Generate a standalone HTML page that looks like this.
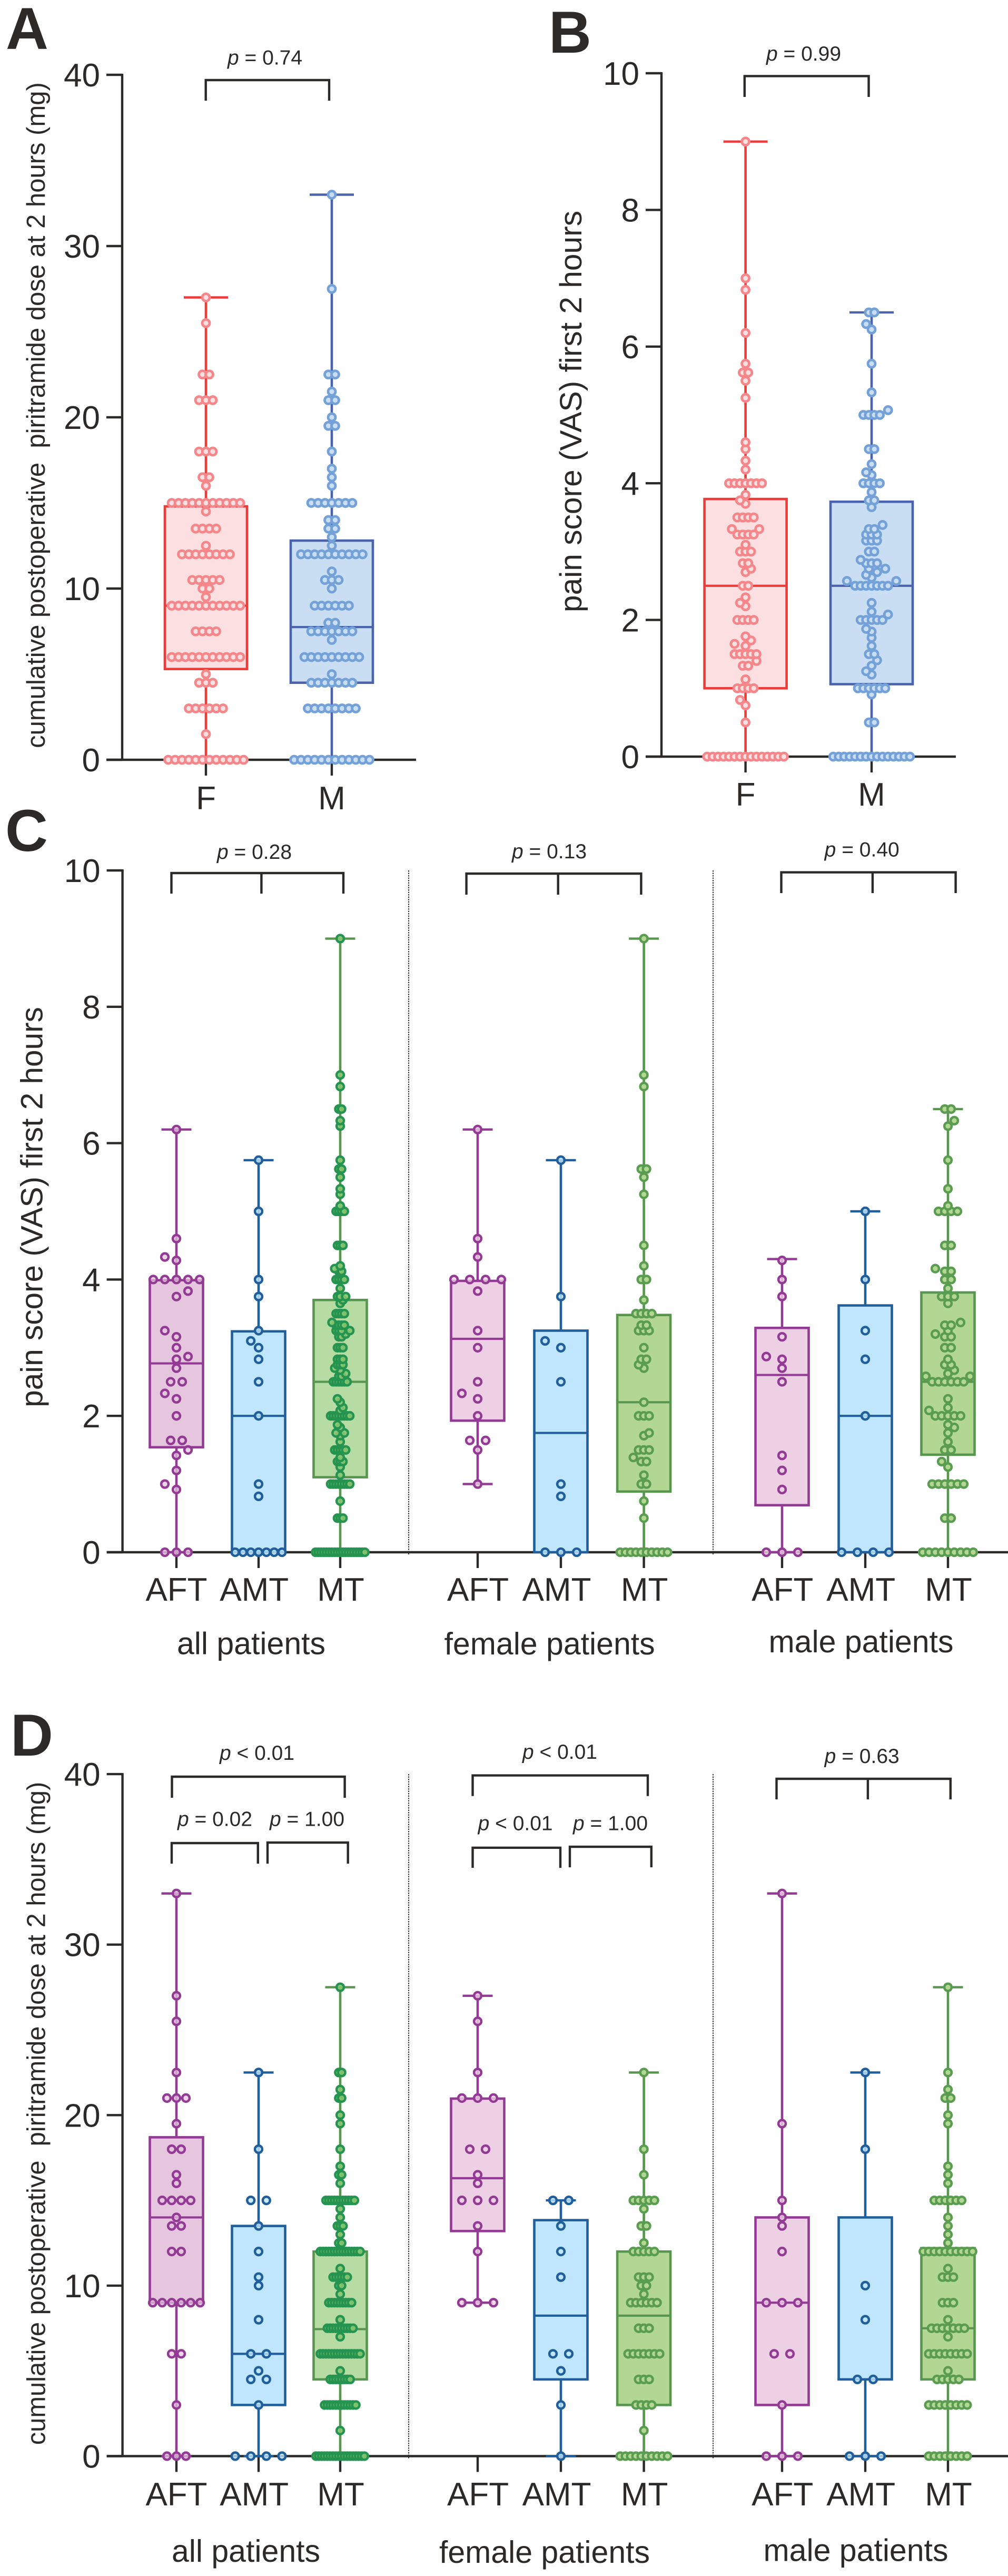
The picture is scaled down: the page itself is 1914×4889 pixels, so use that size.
<!DOCTYPE html>
<html lang="en">
<head>
<meta charset="utf-8">
<title>Piritramide dose and pain score box plots</title>
<style>
html,body{margin:0;padding:0;background:#fff;}
svg{display:block;}
text{font-family:"Liberation Sans",Arial,sans-serif;fill:#2b2a29;white-space:pre;}
.letter{font-size:112px;font-weight:bold;}
.ptext{font-size:39px;text-anchor:middle;}
.group{font-size:59px;text-anchor:middle;}
.ytitle{text-anchor:middle;}
.bracket{fill:none;stroke:#2b2a29;stroke-width:4.4;}
.sep{stroke:#333;stroke-width:2;stroke-dasharray:2.5 2;}
</style>
</head>
<body>
<svg id="figure" xmlns="http://www.w3.org/2000/svg" width="1914" height="4889" viewBox="0 0 1914 4889">
  <rect width="1914" height="4889" fill="#ffffff"/>

  <text class="letter" x="11" y="93">A</text>
  <text class="letter" x="1042" y="100">B</text>
  <text class="letter" x="10" y="1615">C</text>
  <text class="letter" x="20" y="3332">D</text>

  <text class="ytitle" font-size="49" transform="translate(85,788) rotate(-90)">cumulative postoperative  piritramide dose at 2 hours (mg)</text>
  <text class="ytitle" font-size="58.7" transform="translate(1104,781) rotate(-90)">pain score (VAS) first 2 hours</text>
  <text class="ytitle" font-size="58.5" transform="translate(80.5,2291) rotate(-90)">pain score (VAS) first 2 hours</text>
  <text class="ytitle" font-size="48.8" transform="translate(85.5,4011) rotate(-90)">cumulative postoperative  piritramide dose at 2 hours (mg)</text>

  <line class="sep" x1="776" y1="1652" x2="776" y2="2950"/>
  <line class="sep" x1="1354" y1="1652" x2="1354" y2="2950"/>
  <line class="sep" x1="776" y1="3367" x2="776" y2="4667"/>
  <line class="sep" x1="1354" y1="3367" x2="1354" y2="4667"/>

  <text class="ptext" x="503" y="122.5"><tspan font-style="italic">p</tspan> = 0.74</text>
  <path class="bracket" d="M390.7 191V152H625V191"/>
  <text class="ptext" x="1526" y="115"><tspan font-style="italic">p</tspan> = 0.99</text>
  <path class="bracket" d="M1413.8 184V144.4H1649.5V184"/>

  <text class="ptext" x="483" y="1630"><tspan font-style="italic">p</tspan> = 0.28</text>
  <path class="bracket" d="M325.5 1696V1657H652V1696M496.4 1657V1696"/>
  <text class="ptext" x="1043" y="1629"><tspan font-style="italic">p</tspan> = 0.13</text>
  <path class="bracket" d="M885.6 1698V1658H1217.4V1698M1059.7 1658V1698"/>
  <text class="ptext" x="1636.7" y="1625.5"><tspan font-style="italic">p</tspan> = 0.40</text>
  <path class="bracket" d="M1483.5 1695V1655.6H1814.6V1695M1656.9 1655.6V1695"/>

  <text class="ptext" x="488" y="3340"><tspan font-style="italic">p</tspan> &lt; 0.01</text>
  <path class="bracket" d="M326.5 3412V3372H654.6V3412"/>
  <text class="ptext" x="408" y="3465.5"><tspan font-style="italic">p</tspan> = 0.02</text>
  <path class="bracket" d="M326 3537V3498H489.8V3537"/>
  <text class="ptext" x="583" y="3465.5"><tspan font-style="italic">p</tspan> = 1.00</text>
  <path class="bracket" d="M508 3537V3497H660.7V3537"/>

  <text class="ptext" x="1063" y="3338"><tspan font-style="italic">p</tspan> &lt; 0.01</text>
  <path class="bracket" d="M897.5 3408.7V3369.6H1230V3408.7"/>
  <text class="ptext" x="978.6" y="3473.5"><tspan font-style="italic">p</tspan> &lt; 0.01</text>
  <path class="bracket" d="M897.5 3545V3506.8H1064V3545"/>
  <text class="ptext" x="1159" y="3473.5"><tspan font-style="italic">p</tspan> = 1.00</text>
  <path class="bracket" d="M1082 3544V3505H1236.8V3544"/>

  <text class="ptext" x="1636.7" y="3346"><tspan font-style="italic">p</tspan> = 0.63</text>
  <path class="bracket" d="M1474.5 3415V3376H1804.8V3415M1647.9 3376V3415"/>

  <text class="group" x="477" y="3139.5">all patients</text>
  <text class="group" x="1043.6" y="3140">female patients</text>
  <text class="group" x="1635" y="3136">male patients</text>
  <text class="group" x="467" y="4862">all patients</text>
  <text class="group" x="1034" y="4864">female patients</text>
  <text class="group" x="1625" y="4860.5">male patients</text>
</svg>

<script>
/* ---------- axis ticks and categories ---------- */
const doseTicks = [0, 10, 20, 30, 40];
const painTicks = [0, 2, 4, 6, 8, 10];
const sexCategories = ['F', 'M'];
const treatmentCategories = ['AFT', 'AMT', 'MT'];

/* ---------- box statistics: min, q1, median, q3, max ---------- */
const A_F_box = [0, 5.3, 9, 14.8, 27];
const A_M_box = [0, 4.5, 7.75, 12.8, 33];
const B_F_box = [0, 1, 2.5, 3.77, 9];
const B_M_box = [0, 1.06, 2.5, 3.73, 6.5];

const C_all_AFT_box = [0, 1.54, 2.77, 3.99, 6.2];
const C_all_AMT_box = [0, 0, 2, 3.24, 5.75];
const C_all_MT_box = [0, 1.1, 2.5, 3.7, 9];
const C_fem_AFT_box = [1, 1.93, 3.13, 3.98, 6.2];
const C_fem_AMT_box = [0, 0, 1.75, 3.25, 5.75];
const C_fem_MT_box = [0, 0.89, 2.2, 3.48, 9];
const C_male_AFT_box = [0, 0.69, 2.6, 3.29, 4.3];
const C_male_AMT_box = [0, 0, 2, 3.62, 5];
const C_male_MT_box = [0, 1.43, 2.5, 3.81, 6.5];

const D_all_AFT_box = [0, 9, 14, 18.7, 33];
const D_all_AMT_box = [0, 3, 6, 13.5, 22.5];
const D_all_MT_box = [0, 4.5, 7.45, 12, 27.5];
const D_fem_AFT_box = [9, 13.2, 16.3, 20.97, 27];
const D_fem_AMT_box = [0, 4.5, 8.24, 13.84, 15];
const D_fem_MT_box = [0, 3, 8.24, 12, 22.5];
const D_male_AFT_box = [0, 3, 9, 14, 33];
const D_male_AMT_box = [0, 4.5, 4.5, 14, 22.5];
const D_male_MT_box = [0, 4.5, 7.5, 12.2, 27.5];

/* ---------- individual observations: [value, how many patients] ---------- */
const A_F_rows = [[0,12],[1.5,1],[3,6],[4.5,3],[5,1],[6,11],[7.5,4],[9,11],[9.5,1],[10,2],[10.5,5],[12,8],[12.5,1],[13.5,4],[14.5,1],[15,11],[16,1],[16.5,2],[18,3],[21,3],[22.5,2],[25.5,1],[27,1]];
const A_M_rows = [[0,12],[3,8],[4.5,7],[5,1],[6,9],[7,1],[7.5,7],[8,2],[9,6],[10,1],[10.5,3],[11,1],[12,10],[12.5,1],[13,1],[13.5,2],[14,2],[15,7],[16,1],[16.5,1],[17,1],[18,1],[19.5,2],[20,1],[21,2],[21.5,1],[22.5,2],[27.5,1],[33,1]];
const B_F_rows = [[0,15],[0.5,1],[0.75,1],[0.83,1],[1,4],[1.13,1],[1.33,2],[1.4,1],[1.5,5],[1.62,1],[1.65,1],[1.7,1],[1.76,1],[2,4],[2.2,1],[2.25,1],[2.33,1],[2.5,2],[2.7,1],[2.75,1],[2.83,2],[3,3],[3.1,1],[3.25,4],[3.33,2],[3.5,4],[3.7,1],[3.75,1],[3.83,1],[4,7],[4.2,1],[4.33,1],[4.5,1],[4.6,1],[5.25,1],[5.5,1],[5.62,2],[5.75,1],[6.2,1],[6.83,1],[7,1],[9,1]];
const B_M_rows = [[0,15],[0.5,2],[0.91,1],[1,6],[1.2,1],[1.25,1],[1.33,1],[1.41,1],[1.5,2],[1.62,1],[1.74,1],[1.83,1],[1.87,1],[2,5],[2.08,1],[2.12,1],[2.25,1],[2.5,7],[2.57,2],[2.62,1],[2.66,1],[2.7,1],[2.75,2],[2.83,3],[2.88,1],[3,2],[3.16,3],[3.25,3],[3.33,2],[3.39,1],[3.65,1],[3.75,2],[3.87,1],[4,4],[4.12,1],[4.16,1],[4.28,1],[4.5,2],[5,4],[5.07,1],[5.33,1],[5.75,1],[6.25,1],[6.33,1],[6.5,2]];

const C_fem_AFT_rows = [[1,1],[1.5,1],[1.64,2],[2,1],[2.25,1],[2.33,1],[2.5,1],[3,1],[3.25,1],[3.83,1],[4,4],[4.33,1],[4.6,1],[6.2,1]];
const C_male_AFT_rows = [[0,3],[0.92,1],[1.2,1],[1.42,1],[2.5,1],[2.7,1],[2.83,1],[2.87,1],[3.16,1],[3.75,1],[4,1],[4.28,1]];
const C_fem_AMT_rows = [[0,3],[0.82,1],[1,1],[2.5,1],[3,1],[3.1,1],[3.75,1],[5.75,1]];
const C_male_AMT_rows = [[0,4],[2,1],[2.83,1],[3.25,1],[4,1],[5,1]];
const C_fem_MT_rows = [[0,10],[0.5,1],[0.75,1],[1,2],[1.13,1],[1.33,2],[1.39,1],[1.5,3],[1.71,1],[1.75,1],[2,3],[2.2,1],[2.7,1],[2.75,1],[2.83,2],[3,1],[3.25,3],[3.33,2],[3.5,4],[3.7,1],[4,2],[4.2,1],[4.5,1],[5.25,1],[5.5,1],[5.62,2],[6.83,1],[7,1],[9,1]];
const C_male_MT_rows = [[0,9],[0.5,2],[1,6],[1.25,1],[1.33,1],[1.5,2],[1.62,1],[1.75,1],[1.83,1],[1.87,1],[2,5],[2.08,1],[2.12,1],[2.25,1],[2.5,6],[2.58,2],[2.62,1],[2.67,1],[2.75,2],[2.83,1],[3,2],[3.16,2],[3.2,1],[3.25,1],[3.33,2],[3.37,1],[3.65,1],[3.75,3],[3.87,1],[4,2],[4.12,2],[4.16,1],[4.5,2],[5,4],[5.08,1],[5.33,1],[5.75,1],[6.25,1],[6.33,1],[6.5,2]];
const C_all_AFT_rows = mergeRows(C_fem_AFT_rows, C_male_AFT_rows);
const C_all_AMT_rows = mergeRows(C_fem_AMT_rows, C_male_AMT_rows);
const C_all_MT_rows = mergeRows(C_fem_MT_rows, C_male_MT_rows);

const D_fem_AFT_rows = [[9,3],[12,1],[13.5,1],[15,3],[16,1],[16.5,1],[18,2],[21,3],[22.5,1],[25.5,1],[27,1]];
const D_male_AFT_rows = [[0,3],[3,1],[6,2],[9,3],[12,1],[13.5,1],[14,1],[15,1],[19.5,1],[33,1]];
const D_fem_AMT_rows = [[0,1],[3,1],[5,1],[6,2],[10.5,1],[12,1],[13.5,1],[15,2]];
const D_male_AMT_rows = [[0,3],[4.5,2],[8,1],[10,1],[18,1],[22.5,1]];
const D_fem_MT_rows = [[0,10],[1.5,1],[3,4],[4.5,3],[6,7],[7.5,3],[9,6],[9.5,1],[10,2],[10.5,3],[12,5],[12.5,1],[13.5,2],[14.5,1],[15,5],[16.5,1],[18,1],[22.5,1]];
const D_male_MT_rows = [[0,8],[3,8],[4.5,5],[5,1],[6,8],[7,1],[7.5,7],[8,1],[9,3],[10.5,3],[11,1],[12,10],[12.5,1],[13,1],[13.5,1],[14,1],[15,6],[16,1],[16.5,1],[17,1],[19.5,1],[20,1],[21,2],[21.5,1],[22.5,1],[27.5,1]];
const D_all_AFT_rows = mergeRows(D_fem_AFT_rows, D_male_AFT_rows);
const D_all_AMT_rows = mergeRows(D_fem_AMT_rows, D_male_AMT_rows);
const D_all_MT_rows = mergeRows(D_fem_MT_rows, D_male_MT_rows);

function mergeRows(a, b) {
  const m = new Map();
  a.concat(b).forEach(function (r) { m.set(r[0], (m.get(r[0]) || 0) + r[1]); });
  return Array.from(m.entries()).sort(function (p, q) { return p[0] - q[0]; });
}

/* ---------- drawing helpers ---------- */
const NS = 'http://www.w3.org/2000/svg';
const figure = document.getElementById('figure');
const INK = '#2b2a29';

function make(tag, attrs, parent) {
  const n = document.createElementNS(NS, tag);
  Object.keys(attrs).forEach(function (k) { n.setAttribute(k, attrs[k]); });
  parent.appendChild(n);
  return n;
}

function swarm(rows, cx, y, step, minDist) {
  const placed = [];
  let side = -1;
  rows.slice().sort(function (a, b) { return a[0] - b[0]; }).forEach(function (row) {
    const cy = y(row[0]);
    const n = row[1];
    const current = [];
    for (let i = 0; i < n; i++) {
      const base = (i - (n - 1) / 2) * step;
      const dir = base > 0 ? 1 : base < 0 ? -1 : 0;
      const clash = function (off) {
        return placed.some(function (p) {
          const dx = p.x - (cx + off), dy = p.y - cy;
          return dx * dx + dy * dy < minDist * minDist;
        });
      };
      let off = base;
      if (clash(off)) {
        for (let j = 1; j <= 10; j++) {
          if (dir !== 0) {
            off = base + dir * j * step;
            if (!clash(off)) break;
          } else {
            off = side * j * step;
            if (!clash(off)) { side = -side; break; }
            off = -side * j * step;
            if (!clash(off)) { break; }
          }
        }
      }
      current.push({ x: cx + off, y: cy });
    }
    Array.prototype.push.apply(placed, current);
  });
  return placed;
}

function drawAxes(layout, ticks, categories) {
  const g = make('g', {}, figure);
  
  

  const yAxis = make('line', { x1: layout.axisX, x2: layout.axisX, y1: layout.y(ticks[ticks.length - 1]) - 2, y2: layout.y(0), stroke: INK, 'stroke-width': 4.4 }, g);
  
  

  const xAxis = make('line', { x1: layout.axisX - 30, x2: layout.axisEnd, y1: layout.y(0), y2: layout.y(0), stroke: INK, 'stroke-width': 4.6 }, g);
  
  

  ticks.forEach(function (t) {
    const tickLine = make('line', { x1: layout.axisX - 30, x2: layout.axisX, y1: layout.y(t), y2: layout.y(t), stroke: INK, 'stroke-width': 4.4 }, g);
    
    
    const label = make('text', { x: layout.axisX - 42, y: layout.y(t) + 22, 'font-size': 62, 'text-anchor': 'end' }, g);
    label.textContent = String(t);
    
    
  });

  layout.xs.forEach(function (x, i) {
    const tickLine = make('line', { x1: x, x2: x, y1: layout.y(0), y2: layout.y(0) + 30, stroke: INK, 'stroke-width': 4.4 }, g);
    
    
    const label = make('text', { x: layout.labelXs[i], y: layout.y(0) + layout.labelDrop, 'font-size': 62, 'text-anchor': 'middle' }, g);
    label.textContent = categories[i % categories.length];
    
    
  });
}

function drawSeries(name, y, cx, boxStats, rows, look, geo) {
  const min = boxStats[0], q1 = boxStats[1], med = boxStats[2], q3 = boxStats[3], max = boxStats[4];
  const g = make('g', {}, figure);
  
  

  const upper = make('line', { x1: cx, x2: cx, y1: y(max), y2: y(q3), stroke: look.line, 'stroke-width': 4.6 }, g);
  
  

  const lower = make('line', { x1: cx, x2: cx, y1: y(q1), y2: y(min), stroke: look.line, 'stroke-width': 4.6 }, g);
  
  

  const capTop = make('line', { x1: cx - geo.cap / 2, x2: cx + geo.cap / 2, y1: y(max), y2: y(max), stroke: look.line, 'stroke-width': 4.4 }, g);
  
  

  const capBottom = make('line', { x1: cx - geo.cap / 2, x2: cx + geo.cap / 2, y1: y(min), y2: y(min), stroke: look.line, 'stroke-width': 4.4 }, g);
  
  

  const box = make('rect', { x: cx - geo.box / 2, y: y(q3), width: geo.box, height: y(q1) - y(q3), fill: look.fill, stroke: look.line, 'stroke-width': 4.6 }, g);
  
  

  const median = make('line', { x1: cx - geo.box / 2, x2: cx + geo.box / 2, y1: y(med), y2: y(med), stroke: look.line, 'stroke-width': 4.2 }, g);
  
  

  swarm(rows, cx, y, geo.step, geo.minDist).forEach(function (p) {
    const dot = make('circle', { cx: p.x, cy: p.y, r: geo.r, fill: look.dotFill, 'fill-opacity': look.dotOpacity, stroke: look.dotStroke, 'stroke-width': geo.sw }, g);
    
    
  });
}

/* ---------- looks ---------- */
const lookF = { line: '#ee3a39', fill: '#fbdfe1', dotStroke: '#f5878b', dotFill: '#fbdfe1', dotOpacity: 1 };
const lookM = { line: '#4a63ac', fill: '#c9def3', dotStroke: '#74a2d8', dotFill: '#c9def3', dotOpacity: 1 };
const lookAFTall = { line: '#933b94', fill: '#e6c5df', dotStroke: '#933b94', dotFill: '#e6c5df', dotOpacity: 0.72 };
const lookAFTsub = { line: '#933b94', fill: '#eed0e4', dotStroke: '#933b94', dotFill: '#eed0e4', dotOpacity: 0.8 };
const lookAMT = { line: '#205f9c', fill: '#bfe6fc', dotStroke: '#205f9c', dotFill: '#bfe6fc', dotOpacity: 0.8 };
const lookMTall = { line: '#58964f', fill: '#b6dba3', dotStroke: '#249450', dotFill: '#86c46f', dotOpacity: 0.9 };
const lookMTsub = { line: '#58964f', fill: '#b2d793', dotStroke: '#5a9c50', dotFill: '#b2d793', dotOpacity: 1 };

/* ---------- scales ---------- */
function scale(y0, perUnit) { return function (v) { return y0 - v * perUnit; }; }
const yA = scale(1442, 32.5);
const yB = scale(1436, 129.7);
const yC = scale(2946, 129.4);
const yD = scale(4661.5, 32.36);

const twoGeo = { box: 156, cap: 84, step: 13, minDist: 12, r: 7, sw: 4.8 };
const twoGeoB = { box: 156, cap: 84, step: 10.4, minDist: 11.5, r: 7, sw: 4.8 };
function threeGeo(step, minDist) { return { box: 101, cap: 57, step: step, minDist: minDist, r: 6.9, sw: 4.5 }; }

/* ---------- panel A ---------- */
drawAxes({ name: 'panel-a', y: yA, axisX: 232, axisEnd: 790, xs: [391, 630], labelXs: [391, 630], labelDrop: 94 }, doseTicks, sexCategories);
drawSeries('panel-a-female', yA, 391, A_F_box, A_F_rows, lookF, twoGeo);
drawSeries('panel-a-male', yA, 630, A_M_box, A_M_rows, lookM, twoGeo);

/* ---------- panel B ---------- */
drawAxes({ name: 'panel-b', y: yB, axisX: 1256, axisEnd: 1815, xs: [1415.6, 1655], labelXs: [1415.6, 1655], labelDrop: 93 }, painTicks, sexCategories);
drawSeries('panel-b-female', yB, 1415.6, B_F_box, B_F_rows, lookF, twoGeoB);
drawSeries('panel-b-male', yB, 1655, B_M_box, B_M_rows, lookM, twoGeoB);

/* ---------- panel C ---------- */
const xSix = [335, 491, 646, 907, 1065, 1222.6, 1485, 1643, 1800];
const labelSixC = [335, 482.7, 647, 907.6, 1057, 1223.6, 1485.7, 1634.7, 1801];
drawAxes({ name: 'panel-c', y: yC, axisX: 232.6, axisEnd: 1914, xs: xSix, labelXs: labelSixC, labelDrop: 92 }, painTicks, treatmentCategories);
drawSeries('panel-c-all-aft', yC, xSix[0], C_all_AFT_box, C_all_AFT_rows, lookAFTall, threeGeo(22, 13));
drawSeries('panel-c-all-amt', yC, xSix[1], C_all_AMT_box, C_all_AMT_rows, lookAMT, threeGeo(14.8, 13));
drawSeries('panel-c-all-mt', yC, xSix[2], C_all_MT_box, C_all_MT_rows, lookMTall, threeGeo(5.2, 7));
drawSeries('panel-c-female-aft', yC, xSix[3], C_fem_AFT_box, C_fem_AFT_rows, lookAFTsub, threeGeo(30, 13));
drawSeries('panel-c-female-amt', yC, xSix[4], C_fem_AMT_box, C_fem_AMT_rows, lookAMT, threeGeo(30, 13));
drawSeries('panel-c-female-mt', yC, xSix[5], C_fem_MT_box, C_fem_MT_rows, lookMTsub, threeGeo(10, 11));
drawSeries('panel-c-male-aft', yC, xSix[6], C_male_AFT_box, C_male_AFT_rows, lookAFTsub, threeGeo(30, 13));
drawSeries('panel-c-male-amt', yC, xSix[7], C_male_AMT_box, C_male_AMT_rows, lookAMT, threeGeo(30, 13));
drawSeries('panel-c-male-mt', yC, xSix[8], C_male_MT_box, C_male_MT_rows, lookMTsub, threeGeo(12, 11));

/* ---------- panel D ---------- */
drawAxes({ name: 'panel-d', y: yD, axisX: 232.6, axisEnd: 1914, xs: xSix, labelXs: labelSixC, labelDrop: 93.5 }, doseTicks, treatmentCategories);
drawSeries('panel-d-all-aft', yD, xSix[0], D_all_AFT_box, D_all_AFT_rows, lookAFTall, threeGeo(18, 13));
drawSeries('panel-d-all-amt', yD, xSix[1], D_all_AMT_box, D_all_AMT_rows, lookAMT, threeGeo(29.6, 13));
drawSeries('panel-d-all-mt', yD, xSix[2], D_all_MT_box, D_all_MT_rows, lookMTall, threeGeo(5.4, 7));
drawSeries('panel-d-female-aft', yD, xSix[3], D_fem_AFT_box, D_fem_AFT_rows, lookAFTsub, threeGeo(30, 13));
drawSeries('panel-d-female-amt', yD, xSix[4], D_fem_AMT_box, D_fem_AMT_rows, lookAMT, threeGeo(30, 13));
drawSeries('panel-d-female-mt', yD, xSix[5], D_fem_MT_box, D_fem_MT_rows, lookMTsub, threeGeo(10, 11));
drawSeries('panel-d-male-aft', yD, xSix[6], D_male_AFT_box, D_male_AFT_rows, lookAFTsub, threeGeo(30, 13));
drawSeries('panel-d-male-amt', yD, xSix[7], D_male_AMT_box, D_male_AMT_rows, lookAMT, threeGeo(30, 13));
drawSeries('panel-d-male-mt', yD, xSix[8], D_male_MT_box, D_male_MT_rows, lookMTsub, threeGeo(10.4, 11));
</script>
</body>
</html>
